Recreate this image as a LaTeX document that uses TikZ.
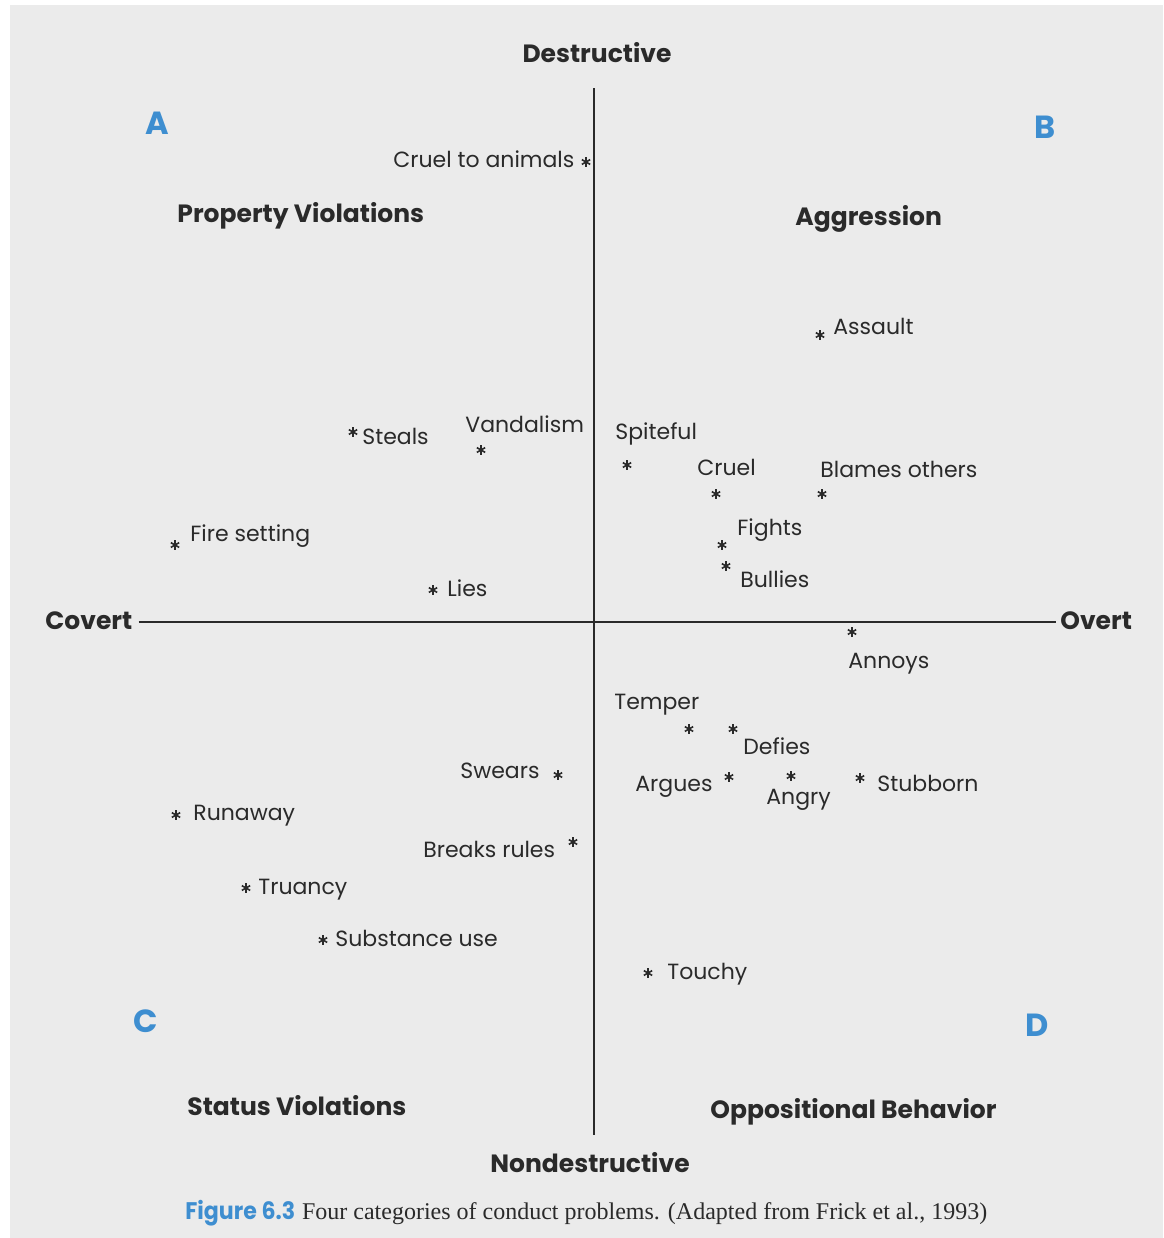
\documentclass[tikz,border=0pt]{standalone}
\usepackage{fontspec}
\usepackage{tikz}
\usetikzlibrary{positioning}
\setmainfont{Poppins}
\newfontfamily\captionserif{Liberation Serif}
\newfontfamily\figsans[FakeStretch=0.92]{Poppins}
\definecolor{ink}{RGB}{42, 42, 42}
\definecolor{paper}{RGB}{235, 235, 235}
\definecolor{quadblue}{RGB}{62, 142, 208}
\newcommand\lblfont{\fontsize{11}{12}\selectfont}
\newcommand\headfont{\fontsize{12.5}{13}\selectfont\bfseries}

\tikzset{
  lbl/.style={font=\lblfont, text=ink, inner sep=0pt, text height=0.7em, text depth=0pt, anchor=west},
  head/.style={font=\headfont, text=ink, inner sep=0pt, text height=0.7em, text depth=0pt, anchor=west},
  quad/.style={font=\fontsize{16}{16}\selectfont\bfseries, text=quadblue, inner sep=0pt},
  ast/.style={minimum size=5pt, inner sep=0pt,
    path picture={\foreach \a in {90,150,210}
      \draw[ink, line width=0.8pt] (path picture bounding box.center) ++(\a:2.4pt) -- ++(\a+180:4.8pt);}},
  axis/.style={draw=ink, line width=1pt}
}

\begin{document}
\begin{tikzpicture}[x=0.5pt, y=-0.5pt]
  \fill[white] (0,0) rectangle (1163,1238);
  \fill[paper] (10,5) rectangle (1163,1238);
  \useasboundingbox (0,0) rectangle (1163,1238);

  % the two axes
  \node[head, anchor=center] (dest)    at ( 597,  55) {Destructive};
  \node[head, anchor=center] (nondest) at ( 590,1165) {Nondestructive};
  \node[head]                (covert)  at (  45, 622) {Covert};
  \node[head]                (overt)   at (1060, 622) {Overt};
  \coordinate (top) at (594,  88);
  \coordinate (bot) at (594,1135);
  \draw[axis] (top) -- (bot);
  \draw[axis] ([xshift=3pt]covert.east) -- ([xshift=-2pt]overt.west);

  % quadrants
  \node[quad] (qa) at ( 157, 123) {A};
  \node[quad] (qb) at (1045, 127) {B};
  \node[quad] (qc) at ( 146,1021) {C};
  \node[quad] (qd) at (1037,1025) {D};
  \node[head] (property)  at (177, 215) {Property Violations};
  \node[head] (aggress)   at (795, 218) {Aggression};
  \node[head] (status)    at (187,1108) {Status Violations};
  \node[head] (opposit)   at (710,1111) {Oppositional Behavior};

  % A: property violations
  \node[lbl] (cruelanim) at (393, 160) {Cruel to animals};
  \node[ast] (cruelanim*) at (586, 162) {};
  \node[lbl] (steals)    at (362, 437) {Steals};
  \node[ast] (steals*)   at (353, 432) {};
  \node[lbl] (vandal)    at (465, 425) {Vandalism};
  \node[ast] (vandal*)   at (481, 450) {};
  \node[lbl] (fire)      at (190, 534) {Fire setting};
  \node[ast] (fire*)     at (175, 545) {};
  \node[lbl] (lies)      at (447, 589) {Lies};
  \node[ast] (lies*)     at (433, 590) {};

  % B: aggression
  \node[lbl] (assault)   at (833, 327) {Assault};
  \node[ast] (assault*)  at (820, 335) {};
  \node[lbl] (spite)     at (615, 432) {Spiteful};
  \node[ast] (spite*)    at (627, 465) {};
  \node[lbl] (cruel)     at (697, 468) {Cruel};
  \node[ast] (cruel*)    at (716, 494) {};
  \node[lbl] (blames)    at (820, 470) {Blames others};
  \node[ast] (blames*)   at (822, 494) {};
  \node[lbl] (fights)    at (737, 528) {Fights};
  \node[ast] (fights*)   at (722, 545) {};
  \node[lbl] (bullies)   at (740, 580) {Bullies};
  \node[ast] (bullies*)  at (726, 566) {};

  % C: status violations
  \node[lbl] (swears)    at (460, 771) {Swears};
  \node[ast] (swears*)   at (558, 775) {};
  \node[lbl] (runaway)   at (193, 813) {Runaway};
  \node[ast] (runaway*)  at (176, 815) {};
  \node[lbl] (breaks)    at (423, 850) {Breaks rules};
  \node[ast] (breaks*)   at (573, 842) {};
  \node[lbl] (truancy)   at (258, 887) {Truancy};
  \node[ast] (truancy*)  at (246, 888) {};
  \node[lbl] (subst)     at (335, 939) {Substance use};
  \node[ast] (subst*)    at (323, 940) {};

  % D: oppositional behavior
  \node[lbl] (annoys)    at (848, 661) {Annoys};
  \node[ast] (annoys*)   at (852, 632) {};
  \node[lbl] (temper)    at (614, 702) {Temper};
  \node[ast] (temper*)   at (689, 729) {};
  \node[lbl] (defies)    at (743, 747) {Defies};
  \node[ast] (defies*)   at (733, 729) {};
  \node[lbl] (argues)    at (635, 784) {Argues};
  \node[ast] (argues*)   at (729, 777) {};
  \node[lbl] (angry)     at (766, 797) {Angry};
  \node[ast] (angry*)    at (791, 776) {};
  \node[lbl] (stubborn)  at (877, 784) {Stubborn};
  \node[ast] (stubborn*) at (860, 778) {};
  \node[lbl] (touchy)    at (667, 972) {Touchy};
  \node[ast] (touchy*)   at (648, 973) {};

  % caption
  \node[font=\figsans\bfseries\fontsize{12}{13}\selectfont, text=quadblue, inner sep=0pt, anchor=west]
    (fig) at (185,1213) {Figure 6.3};
  \node[font=\captionserif\fontsize{12}{13}\selectfont, text=ink, inner sep=0pt,
    right=3pt of fig.base east, anchor=base west]
    (captext) {Four categories of conduct problems. (Adapted from Frick et al., 1993)};
\end{tikzpicture}
\end{document}
